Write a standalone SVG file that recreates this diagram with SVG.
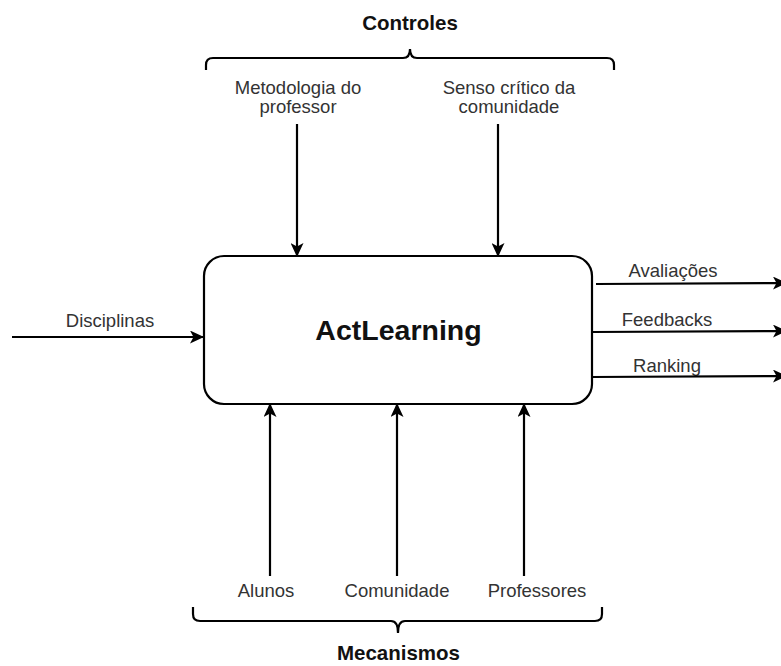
<svg xmlns="http://www.w3.org/2000/svg" width="781" height="666" viewBox="0 0 781 666">
  <style>
    .lbl { font-family: "Liberation Sans", Arial, sans-serif; font-size: 18.5px; fill: #333; text-anchor: middle; }
    .ttl { font-family: "Liberation Sans", Arial, sans-serif; font-size: 20.5px; font-weight: bold; fill: #111; text-anchor: middle; }
    .edge { stroke: #000; stroke-width: 2.2; fill: none; marker-end: url(#arrow); }
    .brace { stroke: #000; stroke-width: 2.2; fill: none; }
  </style>
  <defs>
    <marker id="arrow" viewBox="0 0 14 13" refX="13" refY="6.5" markerWidth="14" markerHeight="13" markerUnits="userSpaceOnUse" orient="auto">
      <path d="M0,0 L14,6.5 L0,13 L3.5,6.5 Z" fill="#000"/>
    </marker>
  </defs>
  <rect width="781" height="666" fill="#fff"/>

  <!-- central process box -->
  <g id="actlearning">
    <rect x="204" y="256" width="388" height="148" rx="20" ry="20" fill="#fff" stroke="#000" stroke-width="2.2"/>
    <text x="398.5" y="340" font-family="Liberation Sans, Arial, sans-serif" font-size="28.5" font-weight="bold" fill="#111" text-anchor="middle">ActLearning</text>
  </g>

  <!-- controls group -->
  <g id="controles">
    <text class="ttl" x="410" y="30">Controles</text>
    <path class="brace" d="M206,70 V65 Q206,58 213,58 H403 Q410,58 410,49 Q410,58 417,58 H607 Q614,58 614,65 V70"/>
  </g>
  <g id="metodologia">
    <text class="lbl" x="298" y="94">Metodologia do</text>
    <text class="lbl" x="298" y="113">professor</text>
  </g>
  <g id="senso">
    <text class="lbl" x="509" y="94">Senso crítico da</text>
    <text class="lbl" x="509" y="113">comunidade</text>
  </g>

  <!-- mechanisms group -->
  <g id="mecanismos">
    <path class="brace" d="M193,607 V614 Q193,621 200,621 H391 Q398,621 398,633 Q398,621 405,621 H595 Q602,621 602,614 V607"/>
    <text class="ttl" x="398.5" y="660">Mecanismos</text>
  </g>
  <g id="alunos"><text class="lbl" x="266" y="597">Alunos</text></g>
  <g id="comunidade"><text class="lbl" x="397" y="597">Comunidade</text></g>
  <g id="professores"><text class="lbl" x="537" y="597">Professores</text></g>

  <!-- input / outputs labels -->
  <g id="disciplinas"><text class="lbl" x="110" y="327">Disciplinas</text></g>
  <g id="avaliacoes"><text class="lbl" x="673" y="277">Avaliações</text></g>
  <g id="feedbacks"><text class="lbl" x="667" y="326">Feedbacks</text></g>
  <g id="ranking"><text class="lbl" x="667" y="372">Ranking</text></g>

  <!-- connectors -->
  <g id="connectors">
    <line class="edge" x1="12" y1="337" x2="203" y2="337"/>
    <line class="edge" x1="297" y1="124" x2="297" y2="256"/>
    <line class="edge" x1="498" y1="124" x2="498" y2="256"/>
    <line class="edge" x1="270" y1="576" x2="270" y2="404"/>
    <line class="edge" x1="397" y1="576" x2="397" y2="404"/>
    <line class="edge" x1="524" y1="576" x2="524" y2="404"/>
    <line class="edge" x1="596" y1="284" x2="786" y2="283"/>
    <line class="edge" x1="592" y1="332" x2="786" y2="331"/>
    <line class="edge" x1="592" y1="377" x2="786" y2="376"/>
  </g>
</svg>
